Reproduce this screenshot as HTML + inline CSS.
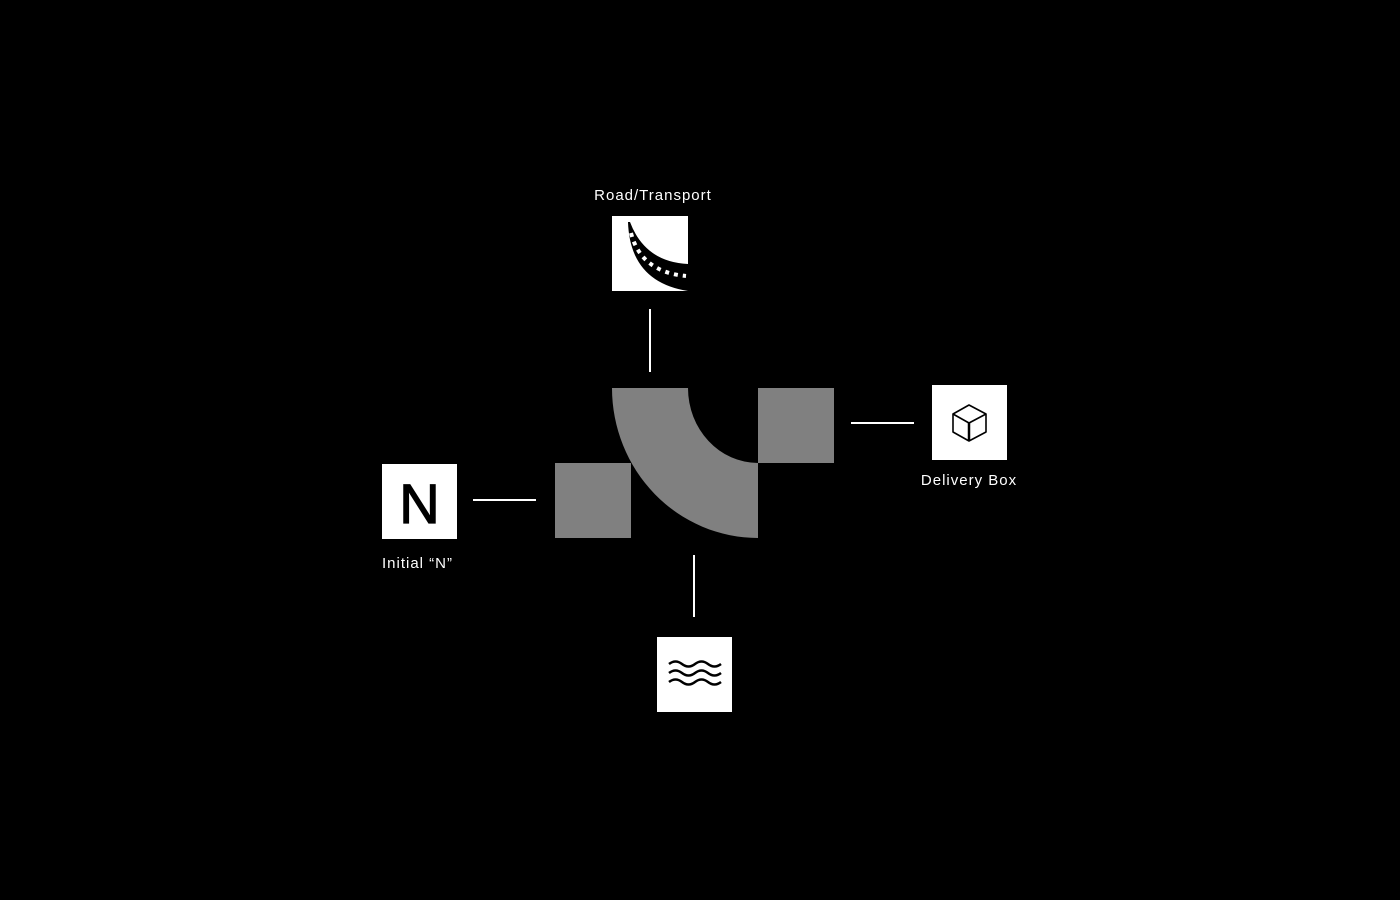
<!DOCTYPE html>
<html><head><meta charset="utf-8"><style>
html,body{margin:0;padding:0;background:#000;width:1400px;height:900px;overflow:hidden}
svg{display:block}
text{font-family:"Liberation Sans",sans-serif;fill:#fff;font-size:15px;letter-spacing:1px}
</style></head><body>
<svg width="1400" height="900" viewBox="0 0 1400 900">
<rect width="1400" height="900" fill="#000"/>
<path d="M612,388 L688,388 A70,75 0 0 0 758,463 L758,538 A146,150 0 0 1 612,388 Z" fill="#808080"/>
<rect x="555" y="463" width="76" height="75" fill="#808080"/>
<rect x="758" y="388" width="76" height="75" fill="#808080"/>
<g stroke="#fff" stroke-width="2">
<line x1="650" y1="309" x2="650" y2="372"/>
<line x1="851" y1="423" x2="914" y2="423"/>
<line x1="473" y1="500" x2="536" y2="500"/>
<line x1="694" y1="555" x2="694" y2="617"/>
</g>
<rect x="612" y="216" width="76" height="75" fill="#fff"/>
<path d="M628,222 Q630,282 688,291 L688,264 Q645,262 630,222 Z" fill="#000"/>
<path d="M631,233 Q641,272 686,276" stroke="#fff" stroke-width="4" fill="none" stroke-dasharray="4,5"/>
<rect x="932" y="385" width="75" height="75" fill="#fff"/>
<g stroke="#000" stroke-width="1.6" fill="none" stroke-linejoin="round">
<path d="M969,405 L986,414 L986,432 L969,441 L953,432 L953,414 Z"/>
<path d="M953,414 L969,423 L986,414"/>
<line x1="969" y1="423" x2="969" y2="441" stroke-width="2.5"/>
</g>
<rect x="657" y="637" width="75" height="75" fill="#fff"/>
<g stroke="#000" stroke-width="2.5" fill="none">
<path d="M669,664 q6.5,-5 13,0 t13,0 t13,0 t13,0"/>
<path d="M669,673 q6.5,-5 13,0 t13,0 t13,0 t13,0"/>
<path d="M669,682 q6.5,-5 13,0 t13,0 t13,0 t13,0"/>
</g>
<rect x="382" y="464" width="75" height="75" fill="#fff"/>
<text x="419.5" y="523" text-anchor="middle" style="fill:#000;stroke:#000;stroke-width:1.2px;font-size:56px;letter-spacing:0">N</text>
<text x="653" y="200" text-anchor="middle">Road/Transport</text>
<text x="969" y="485" text-anchor="middle">Delivery Box</text>
<text x="382" y="568">Initial “N”</text>
</svg>
</body></html>
